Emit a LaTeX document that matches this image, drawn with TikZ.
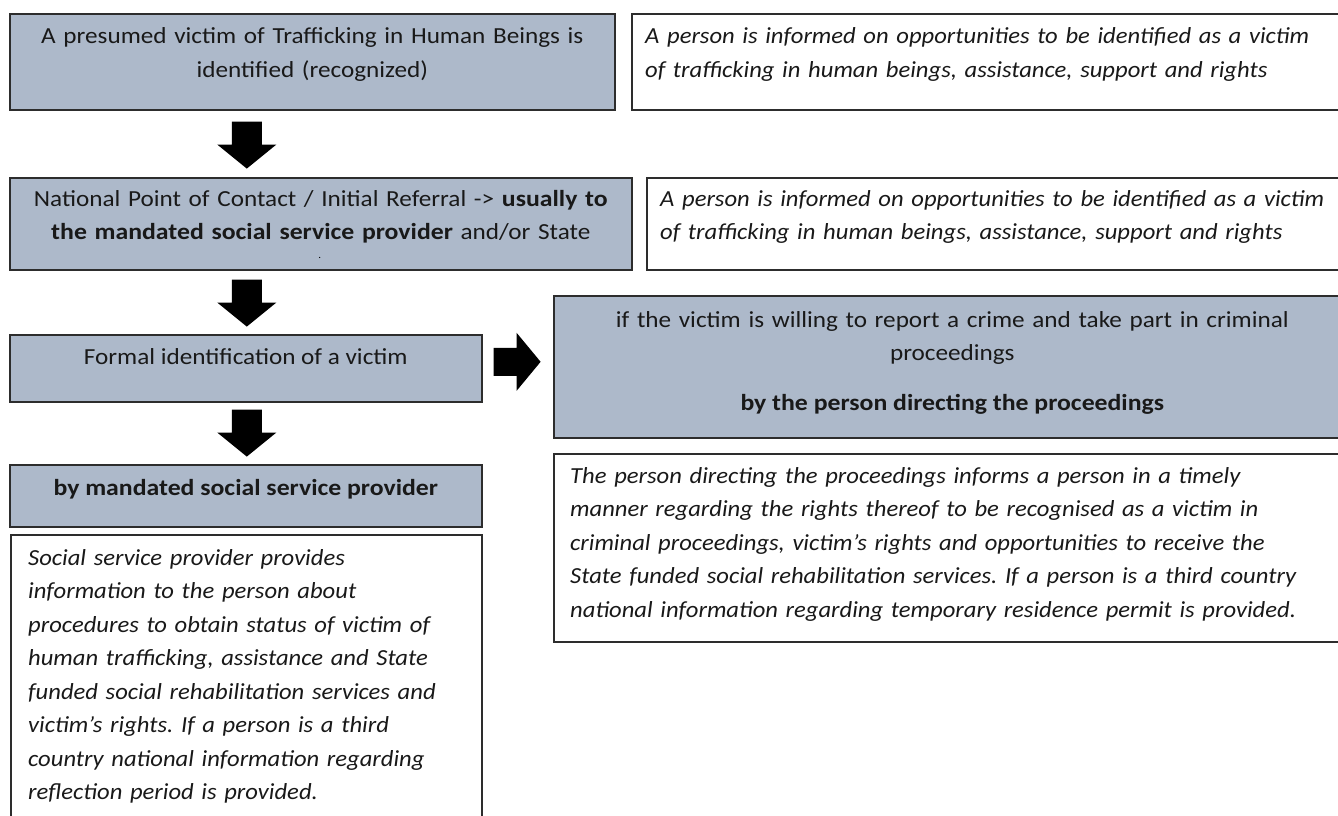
\documentclass[tikz,border=0pt]{standalone}
\usepackage{fontspec}
\setmainfont{Carlito}[FakeStretch=1.095, BoldFeatures={FakeStretch=1.12}]
\newfontfamily\infofont{Carlito}[FakeStretch=1.07]
\usetikzlibrary{calc}
\definecolor{boxblue}{RGB}{173,185,202}
\definecolor{boxline}{RGB}{45,45,45}
\newcommand{\flowfont}{\fontsize{23}{33.5}\selectfont\frenchspacing}
\tikzset{
  box/.style={draw=boxline, line width=1.6pt, inner sep=0pt, anchor=north west},
  bluebox/.style={box, fill=boxblue},
  whitebox/.style={box, fill=white},
  ctext/.style={font=\flowfont, align=center, inner sep=0pt, anchor=base, text=black!90},
  ltext/.style={font=\flowfont\infofont\itshape, align=left, inner sep=0pt, anchor=base west, text=black!90},
  pics/downblock/.style={code={
    \fill[black] (-15,0) -- (15,0) -- (15,23) -- (29.5,23) -- (0,47)
      -- (-29.5,23) -- (-15,23) -- cycle;}},
  pics/rightblock/.style={code={
    \fill[black] (0,-14) -- (0,14) -- (23,14) -- (23,29) -- (47,0)
      -- (23,-29) -- (23,-14) -- cycle;}}
}
\begin{document}
\begin{tikzpicture}[x=1pt, y=-1pt]
\useasboundingbox (0,0) rectangle (1338,816);
\clip (0,0) rectangle (1338,816);

% left column: the referral steps
\node[bluebox, minimum width=605pt, minimum height=96pt] (b1) at (9,13) {};
\node[bluebox, minimum width=622pt, minimum height=92pt] (b3) at (9,177) {};
\node[bluebox, minimum width=472pt, minimum height=67pt] (b5) at (9,334) {};
\node[bluebox, minimum width=472pt, minimum height=62pt] (b6) at (9,464) {};
\node[whitebox, minimum width=471pt, minimum height=300pt] (b7) at (10,534) {};

% right column: information given to the person
\node[whitebox, minimum width=730pt, minimum height=96pt] (b2) at (631,13) {};
\node[whitebox, minimum width=715pt, minimum height=92pt] (b4) at (646,177) {};
\node[bluebox, minimum width=797pt, minimum height=142pt] (b8) at (553,295) {};
\node[whitebox, minimum width=797pt, minimum height=188pt] (b9) at (553,453) {};

% texts
\node[ctext, text width=600pt] (t1) at ($(b1.north)+(0,31)$)
  {A presumed victim of Trafficking in Human Beings is\\identified (recognized)};
\node[ltext, text width=700pt] (t2) at ($(b2.north west)+(14,31)$)
  {A person is informed on opportunities to be identified as a victim\\of trafficking in human beings, assistance, support and rights};
\node[ctext, text width=620pt] (t3) at ($(b3.north)+(0,29)$)
  {National Point of Contact / Initial Referral -> \textbf{usually to}\\\textbf{the mandated social service provider} and/or State};
\node[font=\fontsize{10}{12}\selectfont, inner sep=0pt, anchor=base] (t3dot) at ($(b3.north)+(-1,81)$) {.};
\node[ltext, text width=690pt] (t4) at ($(b4.north west)+(14,29)$)
  {A person is informed on opportunities to be identified as a victim\\of trafficking in human beings, assistance, support and rights};
\node[ctext] (t5) at ($(b5.north)+(0,30)$) {Formal identification of a victim};
\node[ctext] (t6) at ($(b6.north)+(0,31)$) {\textbf{by mandated social service provider}};
\node[ctext, text width=790pt] (t8) at ($(b8.north)+(0,32)$)
  {if the victim is willing to report a crime and take part in criminal\\proceedings};
\node[ctext] (t8b) at ($(b8.north)+(0,115)$) {\textbf{by the person directing the proceedings}};
\node[ltext, text width=780pt] (t9) at ($(b9.north west)+(17,30)$)
  {The person directing the proceedings informs a person in a timely\\
   manner regarding the rights thereof to be recognised as a victim in\\
   criminal proceedings, victim’s rights and opportunities to receive the\\
   State funded social rehabilitation services. If a person is a third country\\
   national information regarding temporary residence permit is provided.};
\node[ltext, text width=450pt] (t7) at ($(b7.north west)+(18,31)$)
  {Social service provider provides\\
   information to the person about\\
   procedures to obtain status of victim of\\
   human trafficking, assistance and State\\
   funded social rehabilitation services and\\
   victim’s rights. If a person is a third\\
   country national information regarding\\
   reflection period is provided.};

% block arrows between the steps
\pic at ($(b1.south -| b5.north)+(1,11)$) {downblock};
\pic at ($(b3.south -| b5.north)+(1,9)$) {downblock};
\pic at ($(b5.south -| b5.north)+(1,7)$) {downblock};
\pic at ($(b5.east |- b8.west)+(11,-5)$) {rightblock};
\end{tikzpicture}
\end{document}
